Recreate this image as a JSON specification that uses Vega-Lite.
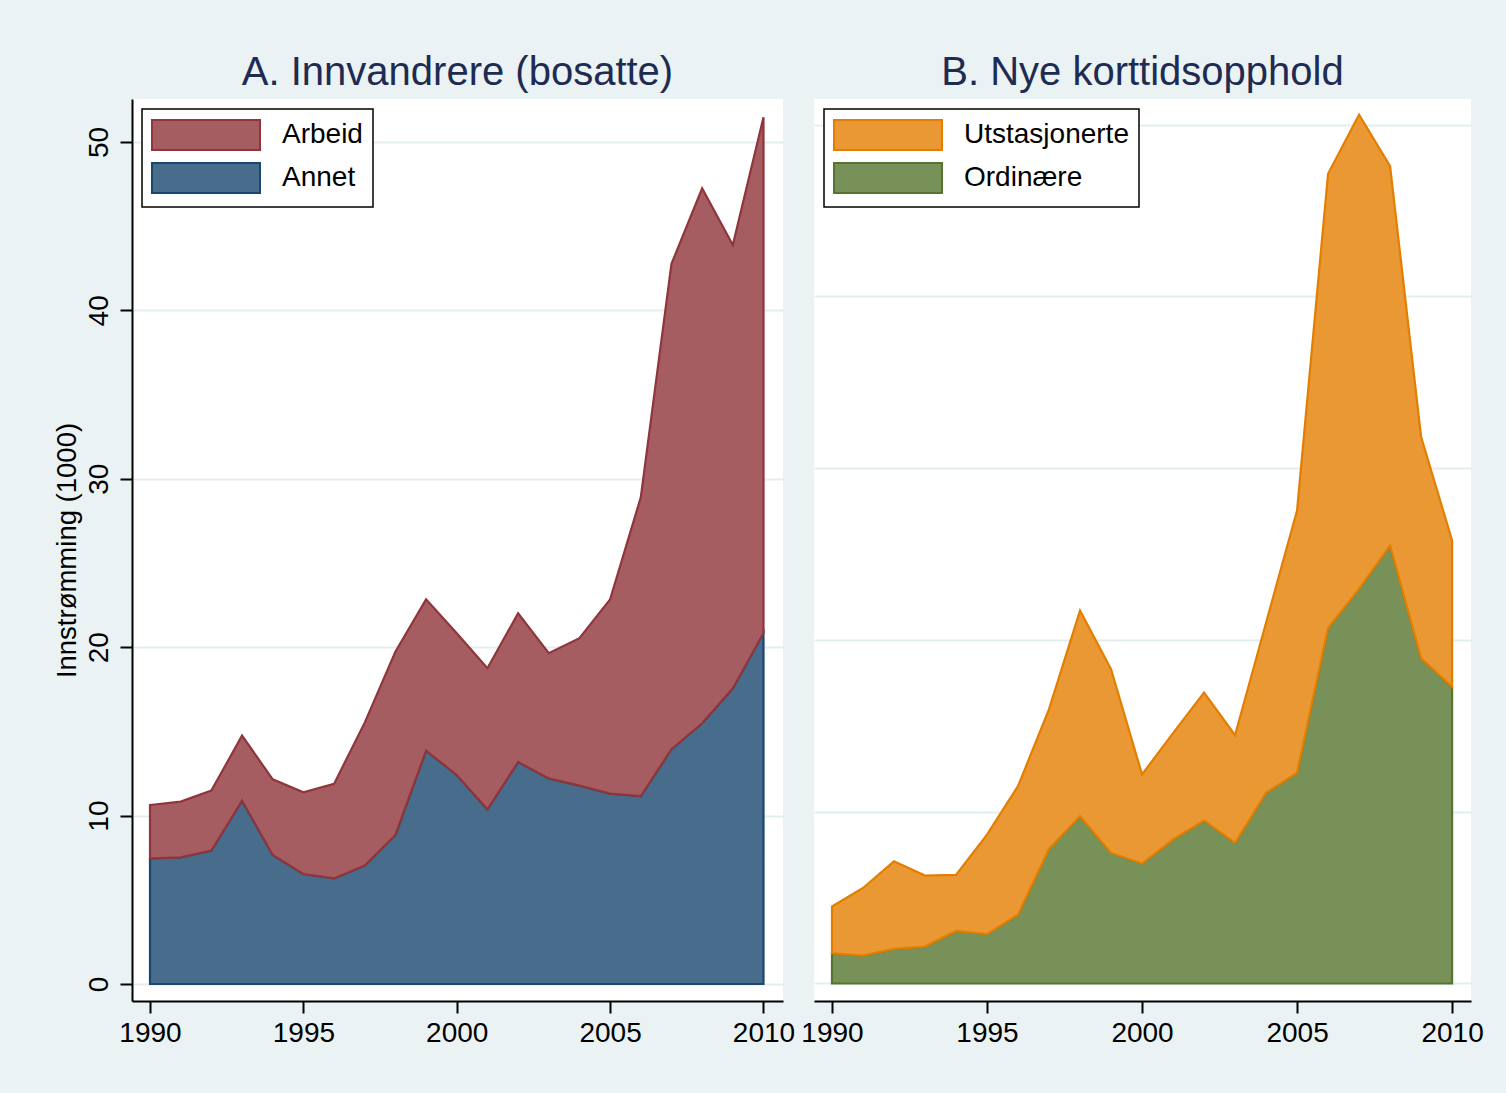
{
  "$schema": "https://vega.github.io/schema/vega-lite/v6.json",
  "background": "#eaf2f3",
  "padding": {"left": 53, "top": 53, "right": 22, "bottom": 46},
  "bounds": "flush",
  "spacing": 31,
  "datasets": {
    "a": [
      {"year": 1990, "series": "Annet", "value": 7.46}, {"year": 1991, "series": "Annet", "value": 7.52},
      {"year": 1992, "series": "Annet", "value": 7.92}, {"year": 1993, "series": "Annet", "value": 10.89},
      {"year": 1994, "series": "Annet", "value": 7.66}, {"year": 1995, "series": "Annet", "value": 6.53},
      {"year": 1996, "series": "Annet", "value": 6.27}, {"year": 1997, "series": "Annet", "value": 7.03},
      {"year": 1998, "series": "Annet", "value": 8.85}, {"year": 1999, "series": "Annet", "value": 13.86},
      {"year": 2000, "series": "Annet", "value": 12.41}, {"year": 2001, "series": "Annet", "value": 10.37},
      {"year": 2002, "series": "Annet", "value": 13.18}, {"year": 2003, "series": "Annet", "value": 12.21},
      {"year": 2004, "series": "Annet", "value": 11.78}, {"year": 2005, "series": "Annet", "value": 11.30},
      {"year": 2006, "series": "Annet", "value": 11.16}, {"year": 2007, "series": "Annet", "value": 13.94},
      {"year": 2008, "series": "Annet", "value": 15.48}, {"year": 2009, "series": "Annet", "value": 17.56},
      {"year": 2010, "series": "Annet", "value": 20.83},
      {"year": 1990, "series": "Arbeid", "value": 3.17}, {"year": 1991, "series": "Arbeid", "value": 3.31},
      {"year": 1992, "series": "Arbeid", "value": 3.56}, {"year": 1993, "series": "Arbeid", "value": 3.86},
      {"year": 1994, "series": "Arbeid", "value": 4.49}, {"year": 1995, "series": "Arbeid", "value": 4.85},
      {"year": 1996, "series": "Arbeid", "value": 5.61}, {"year": 1997, "series": "Arbeid", "value": 8.49},
      {"year": 1998, "series": "Arbeid", "value": 10.88}, {"year": 1999, "series": "Arbeid", "value": 8.98},
      {"year": 2000, "series": "Arbeid", "value": 8.42}, {"year": 2001, "series": "Arbeid", "value": 8.38},
      {"year": 2002, "series": "Arbeid", "value": 8.83}, {"year": 2003, "series": "Arbeid", "value": 7.43},
      {"year": 2004, "series": "Arbeid", "value": 8.75}, {"year": 2005, "series": "Arbeid", "value": 11.54},
      {"year": 2006, "series": "Arbeid", "value": 17.74}, {"year": 2007, "series": "Arbeid", "value": 28.82},
      {"year": 2008, "series": "Arbeid", "value": 31.77}, {"year": 2009, "series": "Arbeid", "value": 26.32},
      {"year": 2010, "series": "Arbeid", "value": 30.64}
    ],
    "b": [
      {"year": 1990, "series": "Ordinære", "value": 1.76}, {"year": 1991, "series": "Ordinære", "value": 1.62},
      {"year": 1992, "series": "Ordinære", "value": 2.01}, {"year": 1993, "series": "Ordinære", "value": 2.15},
      {"year": 1994, "series": "Ordinære", "value": 3.06}, {"year": 1995, "series": "Ordinære", "value": 2.87},
      {"year": 1996, "series": "Ordinære", "value": 4.0}, {"year": 1997, "series": "Ordinære", "value": 7.83},
      {"year": 1998, "series": "Ordinære", "value": 9.74}, {"year": 1999, "series": "Ordinære", "value": 7.60},
      {"year": 2000, "series": "Ordinære", "value": 6.98}, {"year": 2001, "series": "Ordinære", "value": 8.38},
      {"year": 2002, "series": "Ordinære", "value": 9.49}, {"year": 2003, "series": "Ordinære", "value": 8.18},
      {"year": 2004, "series": "Ordinære", "value": 11.10}, {"year": 2005, "series": "Ordinære", "value": 12.27},
      {"year": 2006, "series": "Ordinære", "value": 20.69}, {"year": 2007, "series": "Ordinære", "value": 22.97},
      {"year": 2008, "series": "Ordinære", "value": 25.5}, {"year": 2009, "series": "Ordinære", "value": 18.93},
      {"year": 2010, "series": "Ordinære", "value": 17.27},
      {"year": 1990, "series": "Utstasjonerte", "value": 2.72}, {"year": 1991, "series": "Utstasjonerte", "value": 3.94},
      {"year": 1992, "series": "Utstasjonerte", "value": 5.10}, {"year": 1993, "series": "Utstasjonerte", "value": 4.13},
      {"year": 1994, "series": "Utstasjonerte", "value": 3.26}, {"year": 1995, "series": "Utstasjonerte", "value": 5.80},
      {"year": 1996, "series": "Utstasjonerte", "value": 7.49}, {"year": 1997, "series": "Utstasjonerte", "value": 8.14},
      {"year": 1998, "series": "Utstasjonerte", "value": 11.97}, {"year": 1999, "series": "Utstasjonerte", "value": 10.70},
      {"year": 2000, "series": "Utstasjonerte", "value": 5.19}, {"year": 2001, "series": "Utstasjonerte", "value": 6.19},
      {"year": 2002, "series": "Utstasjonerte", "value": 7.45}, {"year": 2003, "series": "Utstasjonerte", "value": 6.27},
      {"year": 2004, "series": "Utstasjonerte", "value": 9.90}, {"year": 2005, "series": "Utstasjonerte", "value": 15.26},
      {"year": 2006, "series": "Utstasjonerte", "value": 26.45}, {"year": 2007, "series": "Utstasjonerte", "value": 27.60},
      {"year": 2008, "series": "Utstasjonerte", "value": 22.09}, {"year": 2009, "series": "Utstasjonerte", "value": 12.90},
      {"year": 2010, "series": "Utstasjonerte", "value": 8.52}
    ]
  },
  "config": {
    "font": "Liberation Sans",
    "view": {"stroke": null, "fill": "white"},
    "title": {"fontSize": 40, "fontWeight": "normal", "color": "#1e2b52", "anchor": "middle", "offset": 6, "font": "Liberation Sans"},
    "axis": {
      "domainColor": "black", "domainWidth": 2, "tickColor": "black", "tickWidth": 2, "tickSize": 12,
      "labelFontSize": 28, "labelColor": "black", "labelFont": "Liberation Sans",
      "gridColor": "#e4edef", "gridWidth": 2,
      "titleFontWeight": "normal", "titleFontSize": 27.5, "titleColor": "black", "titleFont": "Liberation Sans"
    },
    "legend": {
      "orient": "top-left", "offset": 10, "title": null,
      "strokeColor": "black", "fillColor": "white", "padding": 10,
      "symbolType": "M-3.6,-1H3.6V1H-3.6Z", "symbolSize": 900, "symbolStrokeWidth": 2,
      "symbolOffset": 38, "labelOffset": 60, "labelFontSize": 28, "labelColor": "black",
      "labelFont": "Liberation Sans", "labelLimit": 400, "rowPadding": 5, "symbolOpacity": 1
    }
  },
  "resolve": {
    "scale": {"x": "independent", "y": "independent", "fill": "independent", "stroke": "independent"},
    "legend": {"fill": "independent", "stroke": "independent"}
  },
  "hconcat": [
    {
      "title": "A. Innvandrere (bosatte)",
      "width": 651,
      "height": 902,
      "data": {"name": "a"},
      "mark": {"type": "area", "strokeWidth": 2.2, "opacity": 1, "strokeJoin": "miter"},
      "encoding": {
        "x": {
          "field": "year", "type": "quantitative",
          "scale": {"domain": [1989.413, 2010.636], "nice": false, "zero": false},
          "axis": {"values": [1990, 1995, 2000, 2005, 2010], "format": "d", "title": null, "grid": false, "labelPadding": 6, "labelFlush": false}
        },
        "y": {
          "field": "value", "type": "quantitative", "stack": "zero",
          "scale": {"domain": [-1.01, 52.55], "nice": false, "zero": false},
          "axis": {"values": [0, 10, 20, 30, 40, 50], "title": "Innstrømming (1000)", "labelAngle": -90, "labelAlign": "center", "labelBaseline": "bottom", "labelPadding": 7, "titlePadding": 4, "grid": true}
        },
        "fill": {
          "field": "series", "type": "nominal",
          "scale": {"domain": ["Arbeid", "Annet"], "range": ["#a65d62", "#486c8c"]},
          "legend": {"encode": {"legend": {"update": {"strokeWidth": {"value": 1.5}}}}}
        },
        "stroke": {
          "field": "series", "type": "nominal",
          "scale": {"domain": ["Arbeid", "Annet"], "range": ["#90353b", "#1a476f"]},
          "legend": {"encode": {"legend": {"update": {"strokeWidth": {"value": 1.5}}}}}
        },
        "order": {"field": "series", "sort": "ascending"}
      }
    },
    {
      "title": "B. Nye korttidsopphold",
      "width": 657,
      "height": 902,
      "data": {"name": "b"},
      "mark": {"type": "area", "strokeWidth": 2.2, "opacity": 1, "strokeJoin": "miter"},
      "encoding": {
        "x": {
          "field": "year", "type": "quantitative",
          "scale": {"domain": [1989.42, 2010.61], "nice": false, "zero": false},
          "axis": {"values": [1990, 1995, 2000, 2005, 2010], "format": "d", "title": null, "grid": false, "labelPadding": 6, "labelFlush": false}
        },
        "y": {
          "field": "value", "type": "quantitative", "stack": "zero",
          "scale": {"domain": [-1.02, 51.49], "nice": false, "zero": false},
          "axis": {"values": [0, 10, 20, 30, 40, 50], "title": null, "labels": false, "ticks": false, "domain": false, "grid": true}
        },
        "fill": {
          "field": "series", "type": "nominal",
          "scale": {"domain": ["Utstasjonerte", "Ordinære"], "range": ["#e99833", "#779159"]},
          "legend": {"encode": {"legend": {"update": {"strokeWidth": {"value": 1.5}}}}}
        },
        "stroke": {
          "field": "series", "type": "nominal",
          "scale": {"domain": ["Utstasjonerte", "Ordinære"], "range": ["#e37e00", "#55752f"]},
          "legend": {"encode": {"legend": {"update": {"strokeWidth": {"value": 1.5}}}}}
        },
        "order": {"field": "series", "sort": "ascending"}
      }
    }
  ]
}
